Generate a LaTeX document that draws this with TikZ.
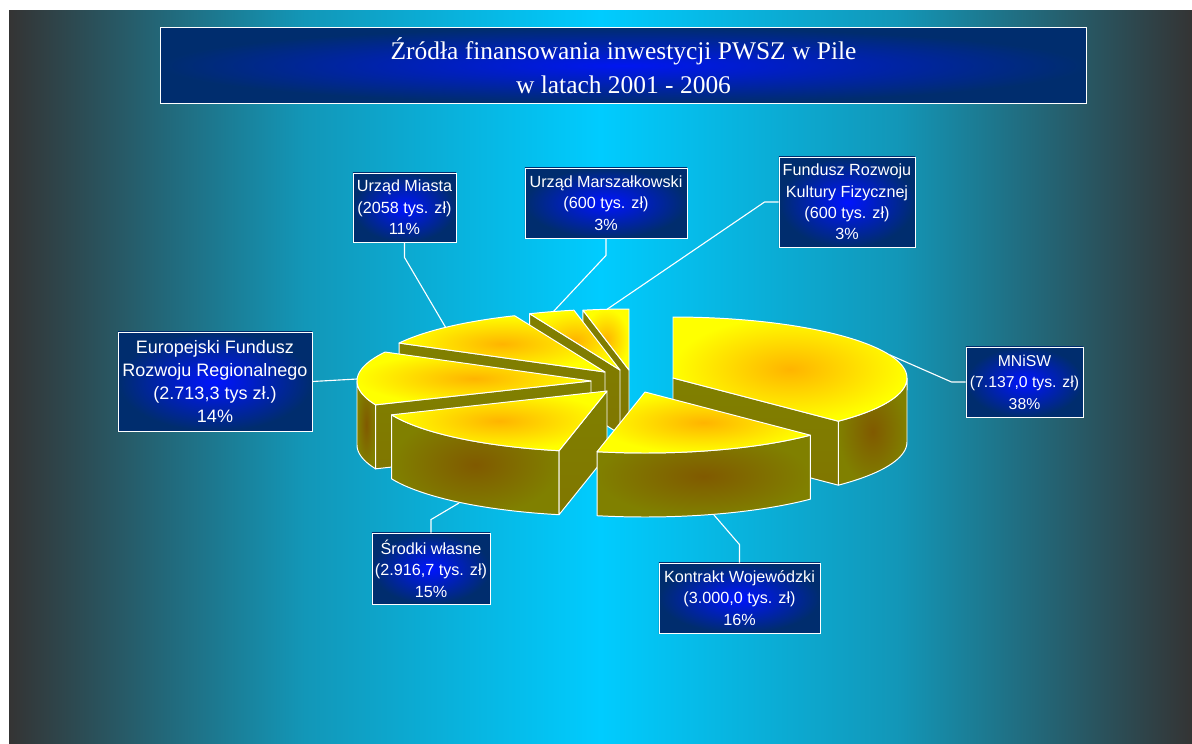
\documentclass[tikz,border=0pt]{standalone}
\usepackage{fontspec}
\setmainfont{Liberation Serif}
\setsansfont{Liberation Sans}
\definecolor{bggray}{RGB}{52, 52, 52}
\definecolor{bgcyan}{RGB}{0, 204, 255}
\colorlet{bgmid}{bgcyan!65!bggray}
\definecolor{boxnavy}{RGB}{0, 45, 110}
\definecolor{boxblue}{RGB}{0, 20, 255}
\definecolor{pieyellow}{RGB}{255, 255, 0}
\definecolor{pieorange}{RGB}{255, 180, 0}
\definecolor{pieolive}{RGB}{128, 128, 0}
\definecolor{piebrown}{RGB}{128, 64, 0}
\usepackage{tikz}
\usetikzlibrary{positioning, calc}
\pgfdeclarehorizontalshading{bgshade}{100bp}{color(0bp)=(bggray); color(25bp)=(bggray); color(37.5bp)=(bgmid); color(50bp)=(bgcyan); color(62.5bp)=(bgmid); color(75bp)=(bggray); color(100bp)=(bggray)}

\tikzset{
  pietop/.style={draw=white, line width=0.7pt, line join=round, inner color=pieorange, outer color=pieyellow},
  pieside/.style={draw=white, line width=0.7pt, line join=round, inner color=pieolive!40!piebrown, outer color=pieolive},
  pieface/.style={draw=white, line width=0.7pt, line join=round, top color=pieolive, bottom color=pieolive!85!piebrown},
  labelbox/.style={draw=white, line width=0.6pt, inner color=boxblue, outer color=boxnavy, text=white,
    font=\sffamily\fontsize{11.5}{15.2}\selectfont, align=center, inner sep=0pt},
  leader/.style={draw=white, line width=0.8pt}
}

\begin{document}
\begin{tikzpicture}[x=0.025cm, y=-0.025cm]
  \useasboundingbox (0,0) rectangle (1192,744);
  \fill[white] (0,0) rectangle (1192,744);

  % Background
  \shade[shading=bgshade] (9,10) rectangle (1192,744);

  % Title
  \node[draw=white, line width=0.8pt, inner color=boxblue!90!boxnavy, outer color=boxnavy, text=white,
        minimum width=23.125cm, minimum height=1.9cm, inner sep=0pt, align=center,
        font=\fontsize{18.1}{24}\selectfont] (title) at (623.5,65.5) {Źródła finansowania inwestycji PWSZ w Pile\\w latach 2001 - 2006};

  % Labels
  \node[labelbox, minimum width=4.85cm, minimum height=2.475cm, font=\sffamily\fontsize{12.8}{16.5}\selectfont] (efrr) at (215,381.5) {Europejski Fundusz\\Rozwoju Regionalnego\\(2.713,3 tys zł.)\\14\%};
  \node[labelbox, minimum width=2.575cm, minimum height=1.725cm] (um) at (404.5,207.5) {Urząd Miasta\\(2058 tys. zł)\\11\%};
  \node[labelbox, minimum width=4.05cm, minimum height=1.75cm] (umar) at (606,203) {Urząd Marszałkowski\\(600 tys. zł)\\3\%};
  \node[labelbox, minimum width=3.4cm, minimum height=2.25cm] (frkf) at (847,202) {Fundusz Rozwoju\\Kultury Fizycznej\\(600 tys. zł)\\3\%};
  \node[labelbox, minimum width=2.925cm, minimum height=1.75cm, font=\sffamily\fontsize{11.2}{15.2}\selectfont] (mnisw) at (1024.5,382) {MNiSW\\(7.137,0 tys. zł)\\38\%};
  \node[labelbox, minimum width=2.95cm, minimum height=1.775cm] (sw) at (431,568.5) {Środki własne\\(2.916,7 tys. zł)\\15\%};
  \node[labelbox, minimum width=4.025cm, minimum height=1.75cm] (kw) at (739.5,598) {Kontrakt Wojewódzki\\(3.000,0 tys. zł)\\16\%};

  % Leader lines
  \coordinate (tip-efrr) at (357,379);
  \coordinate (tip-um) at (446,328);
  \coordinate (tip-umar) at (553,312);
  \coordinate (tip-frkf) at (606,310);
  \coordinate (tip-mnisw) at (890,355);
  \coordinate (tip-sw) at (459,503);
  \coordinate (tip-kw) at (714,515);
  \draw[leader] (efrr.east) -- (tip-efrr);
  \draw[leader] (um.south) -- ++(0,15) -- (tip-um);
  \draw[leader] (umar.south) -- ++(0,17) -- (tip-umar);
  \draw[leader] (frkf.west) -- ++(-14,0) -- (tip-frkf);
  \draw[leader] (mnisw.west) -- ++(-14,0) -- (tip-mnisw);
  \draw[leader] (sw.north) -- ++(0,-13) -- (tip-sw);
  \draw[leader] (kw.north) -- ++(0,-18) -- (tip-kw);

  % Fundusz Rozwoju Kultury Fizycznej
  \draw[pieface] (629,370) -- ({629+234*cos(101.35)},{370-61*sin(101.35)}) -- ++(0,64) -- (629,434) -- cycle;
  \draw[pietop] (629,370) -- plot[domain=90:101.35, samples=10] ({629+234*cos(\x)},{370-61*sin(\x)}) -- cycle;

  % Urzad Marszalkowski
  \draw[pieface] (620,370) -- ({620+234*cos(112.71)},{370-61*sin(112.71)}) -- ++(0,64) -- (620,434) -- cycle;
  \draw[pietop] (620,370) -- plot[domain=101.35:112.71, samples=10] ({620+234*cos(\x)},{370-61*sin(\x)}) -- cycle;

  % Urzad Miasta
  \draw[pieface] (605,372) -- ({605+234*cos(151.65)},{372-61*sin(151.65)}) -- ++(0,64) -- (605,436) -- cycle;
  \draw[pietop] (605,372) -- plot[domain=112.71:151.65, samples=30] ({605+234*cos(\x)},{372-61*sin(\x)}) -- cycle;

  % Europejski Fundusz Rozwoju Regionalnego
  \draw[pieside] plot[domain=180:202.99, samples=20] ({591+234*cos(\x)},{381-61*sin(\x)})
    -- plot[domain=202.99:180, samples=20] ({591+234*cos(\x)},{445-61*sin(\x)}) -- cycle;
  \draw[pieface] (591,381) -- ({591+234*cos(202.99)},{381-61*sin(202.99)}) -- ++(0,64) -- (591,445) -- cycle;
  \draw[pietop] (591,381) -- plot[domain=151.65:202.99, samples=40] ({591+234*cos(\x)},{381-61*sin(\x)}) -- cycle;

  % MNiSW
  \draw[pieside] plot[domain=0:-45.05, samples=30] ({673+234*cos(\x)},{378-61*sin(\x)})
    -- plot[domain=-45.05:0, samples=30] ({673+234*cos(\x)},{442-61*sin(\x)}) -- cycle;
  \draw[pieface] (673,378) -- ({673+234*cos(-45.05)},{378-61*sin(-45.05)}) -- ++(0,64) -- (673,442) -- cycle;
  \draw[pietop] (673,378) -- plot[domain=90:-45.05, samples=60] ({673+234*cos(\x)},{378-61*sin(\x)}) -- cycle;

  % Srodki wlasne
  \draw[pieside] plot[domain=-157.01:-101.82, samples=40] ({607+234*cos(\x)},{391-61*sin(\x)})
    -- plot[domain=-101.82:-157.01, samples=40] ({607+234*cos(\x)},{455-61*sin(\x)}) -- cycle;
  \draw[pieface] (607,391) -- ({607+234*cos(-101.82)},{391-61*sin(-101.82)}) -- ++(0,64) -- (607,455) -- cycle;
  \draw[pietop] (607,391) -- plot[domain=-157.01:-101.82, samples=40] ({607+234*cos(\x)},{391-61*sin(\x)}) -- cycle;

  % Kontrakt Wojewodzki
  \draw[pieside] plot[domain=-101.82:-45.05, samples=40] ({645+234*cos(\x)},{392-61*sin(\x)})
    -- plot[domain=-45.05:-101.82, samples=40] ({645+234*cos(\x)},{456-61*sin(\x)}) -- cycle;
  \draw[pietop] (645,392) -- plot[domain=-101.82:-45.05, samples=40] ({645+234*cos(\x)},{392-61*sin(\x)}) -- cycle;
\end{tikzpicture}
\end{document}
